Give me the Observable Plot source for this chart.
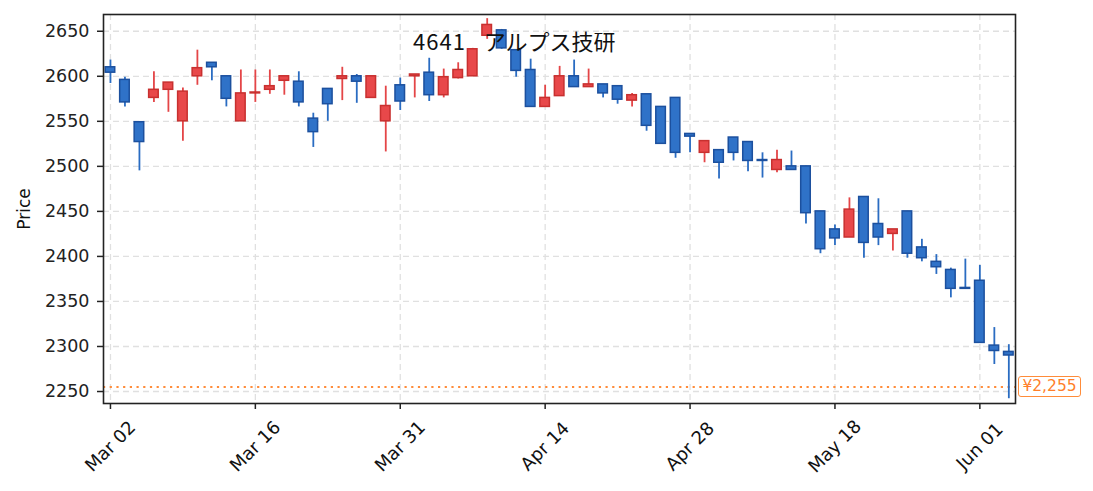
<!DOCTYPE html>
<html>
<head>
<meta charset="utf-8">
<script src="https://cdn.jsdelivr.net/npm/d3@7"></script>
<script src="https://cdn.jsdelivr.net/npm/@observablehq/plot@0.6"></script>
<style>
  html, body { margin: 0; padding: 0; background: #fff; }
  #wrap { position: relative; width: 1093px; height: 491px; }
  #title { position: absolute; left: 413px; top: 27px; font-family: "Noto Sans CJK JP", sans-serif; font-size: 22px; line-height: 26px; color: #111; white-space: pre; }
  #title .code { letter-spacing: 1px; margin-right: 18px; }
  #lastLabel { position: absolute; left: 1018px; width: 61px; height: 19px; border: 1.5px solid #ff8c3a; border-radius: 3px; background: #fff;
    color: #ff7f2a; font-family: "DejaVu Sans", sans-serif; font-size: 15.5px; line-height: 19px; text-align: center; }
</style>
</head>
<body>
<div id="wrap">
  <div id="chart"></div>
  <div id="title"><span class="code"></span><span class="name"></span></div>
  <div id="lastLabel">¥2,255</div>
</div>
<script>
const titleCode = "4641";
const titleName = "アルプス技研";
const dates = [
  "2020-03-02","2020-03-03","2020-03-04","2020-03-05","2020-03-06","2020-03-09","2020-03-10","2020-03-11","2020-03-12","2020-03-13",
  "2020-03-16","2020-03-17","2020-03-18","2020-03-19","2020-03-23","2020-03-24","2020-03-25","2020-03-26","2020-03-27","2020-03-30",
  "2020-03-31","2020-04-01","2020-04-02","2020-04-03","2020-04-06","2020-04-07","2020-04-08","2020-04-09","2020-04-10","2020-04-13",
  "2020-04-14","2020-04-15","2020-04-16","2020-04-17","2020-04-20","2020-04-21","2020-04-22","2020-04-23","2020-04-24","2020-04-27",
  "2020-04-28","2020-04-30","2020-05-01","2020-05-07","2020-05-08","2020-05-11","2020-05-12","2020-05-13","2020-05-14","2020-05-15",
  "2020-05-18","2020-05-19","2020-05-20","2020-05-21","2020-05-22","2020-05-25","2020-05-26","2020-05-27","2020-05-28","2020-05-29",
  "2020-06-01","2020-06-02","2020-06-03"
];
const open  = [2610,2596,2549,2576,2585,2550,2600,2615,2600,2550, 2581,2585,2595,2594,2553,2586,2597,2600,2576,2550,
               2590,2600,2604,2579,2598,2600,2645,2651,2629,2607, 2566,2578,2600,2588,2591,2589,2573,2580,2566,2576,
               2536,2515,2518,2532,2527,2507,2496,2500,2500,2450, 2430,2421,2466,2436,2425,2450,2410,2394,2385,2365,
               2373,2301,2294];
const high  = [2618,2599,2549,2605,2593,2587,2629,2615,2600,2607, 2607,2607,2600,2605,2559,2586,2610,2602,2600,2589,
               2598,2602,2620,2608,2615,2631,2664,2652,2629,2619, 2590,2611,2618,2608,2591,2589,2581,2580,2566,2576,
               2536,2528,2518,2532,2527,2515,2518,2517,2500,2450, 2435,2465,2466,2464,2430,2450,2419,2402,2387,2397,
               2390,2321,2302];
const low   = [2592,2566,2495,2571,2560,2528,2590,2595,2566,2550, 2571,2580,2579,2566,2521,2550,2573,2570,2576,2516,
               2562,2576,2572,2576,2597,2600,2641,2630,2599,2566, 2566,2578,2588,2588,2576,2569,2566,2539,2525,2509,
               2515,2504,2486,2506,2494,2487,2493,2496,2436,2403, 2412,2421,2398,2412,2406,2398,2394,2380,2354,2364,
               2304,2280,2242];
const close = [2604,2571,2527,2585,2593,2583,2609,2610,2575,2581, 2582,2589,2600,2571,2538,2569,2600,2594,2600,2567,
               2572,2602,2579,2599,2607,2630,2657,2631,2606,2566, 2576,2600,2588,2591,2581,2574,2579,2545,2525,2515,
               2533,2528,2504,2515,2506,2506,2507,2496,2448,2408, 2420,2452,2415,2421,2430,2403,2398,2388,2364,2364,
               2304,2295,2290];
const lastPrice = 2255;
const yTicks = [2250, 2300, 2350, 2400, 2450, 2500, 2550, 2600, 2650];
const xTickIndex = [0, 10, 20, 30, 40, 50, 60];

const parse = d3.utcParse("%Y-%m-%d");
const fmt = d3.utcFormat("%b %d");
const candles = dates.map((d, i) => ({
  i, date: parse(d), open: open[i], high: high[i], low: low[i], close: close[i], up: close[i] >= open[i]
}));
const xTicks = xTickIndex.map(i => ({i, label: fmt(parse(dates[i]))}));

const upFill = "#e8484a", upStroke = "#c8302f", upWick = "#e44547";
const dnFill = "#2f72c8", dnStroke = "#1c509e", dnWick = "#2a6cc2";
const half = 0.33;

const chart = Plot.plot({
  width: 1093,
  height: 491,
  marginLeft: 103,
  marginRight: 78,
  marginTop: 14,
  marginBottom: 88,
  style: {fontFamily: "DejaVu Sans, sans-serif", fontSize: "17px", color: "#222", background: "#fff"},
  x: {domain: [-0.48, 62.46], axis: null},
  y: {domain: [2236.7, 2668.6], axis: null},
  marks: [
    Plot.gridY(yTicks, {stroke: "#e0e0e0", strokeOpacity: 1, strokeWidth: 1.3, strokeDasharray: "6,4"}),
    Plot.gridX(xTickIndex, {stroke: "#e0e0e0", strokeOpacity: 1, strokeWidth: 1.3, strokeDasharray: "6,4"}),
    Plot.ruleY([lastPrice], {stroke: "#ff8c3a", strokeWidth: 2, strokeDasharray: "2.2,4.5"}),
    Plot.ruleX(candles, {x: "i", y1: "low", y2: "high", stroke: d => d.up ? upWick : dnWick, strokeWidth: 1.8}),
    Plot.rect(candles, {
      x1: d => d.i - half, x2: d => d.i + half,
      y1: "open", y2: "close",
      fill: d => d.up ? upFill : dnFill,
      stroke: d => d.up ? upStroke : dnStroke,
      strokeWidth: 1.5
    }),
    Plot.frame({stroke: "#222", strokeWidth: 1.6}),
    Plot.axisY(yTicks, {tickSize: 6, tickPadding: 8, fontSize: 17.5, stroke: "#222", strokeWidth: 1.5, label: null, tickFormat: d => String(d)}),
    Plot.axisX(xTickIndex, {tickSize: 6, stroke: "#222", strokeWidth: 1.5, label: null, tickFormat: () => ""}),
    Plot.text(xTicks, {x: "i", text: "label", frameAnchor: "bottom", dy: 43, rotate: -45, textAnchor: "middle", lineAnchor: "middle", fontSize: 18, fill: "#111"}),
    Plot.text(["Price"], {frameAnchor: "left", dx: -79, rotate: -90, textAnchor: "middle", lineAnchor: "middle", fontSize: 17, fill: "#111"})
  ]
});
document.getElementById("chart").appendChild(chart);
document.querySelector("#title .code").textContent = titleCode;
document.querySelector("#title .name").textContent = titleName;
const yPix = chart.scale("y").apply(lastPrice);
const lbl = document.getElementById("lastLabel");
lbl.style.top = (yPix - 11) + "px";
</script>
</body>
</html>
